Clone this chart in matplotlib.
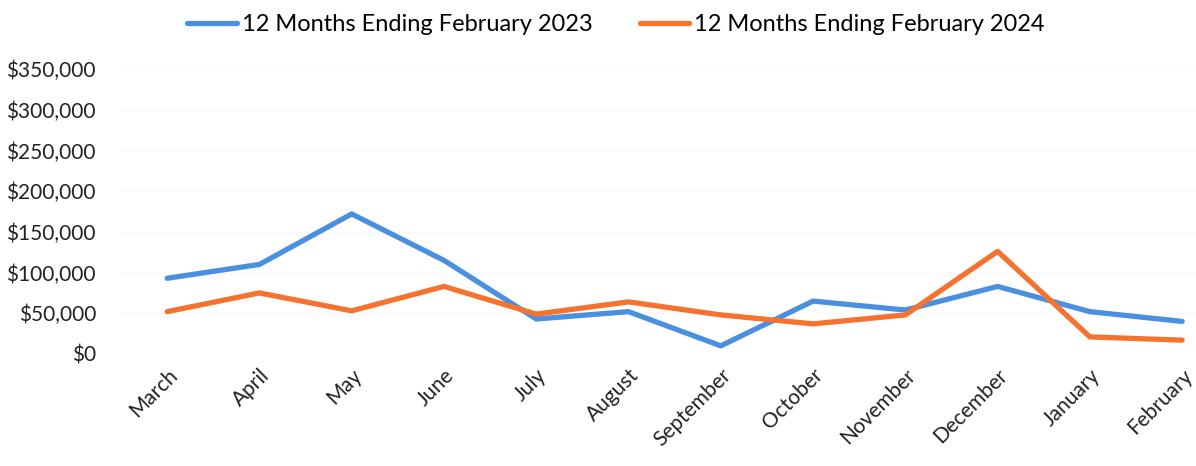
import matplotlib
matplotlib.use("Agg")
from matplotlib import pyplot as plt
from matplotlib.ticker import FuncFormatter

# month labels and the two series (dollars)
months = ["March", "April", "May", "June", "July", "August", "September",
          "October", "November", "December", "January", "February"]
sales_2023 = [93000, 110000, 172000, 115000, 43000, 52000, 10000,
              65000, 54000, 83000, 52000, 40000]
sales_2024 = [52000, 75000, 53000, 83000, 49000, 64000, 48000,
              37000, 48000, 126000, 21000, 17000]
label_2023 = "12 Months Ending February 2023"
label_2024 = "12 Months Ending February 2024"

plt.rcParams['font.family'] = ['Lato', 'DejaVu Sans']

fig = plt.figure(figsize=(11.96, 4.66), dpi=100)
ax = fig.add_axes([121/1196, (466-354)/466, 1 - 121/1196, 285/466])

x = range(len(months))
ax.plot(x, sales_2023, color="#4A8FE0", linewidth=3.8, solid_capstyle="round",
        solid_joinstyle="round", label=label_2023, clip_on=False)
ax.plot(x, sales_2024, color="#F5732F", linewidth=3.8, solid_capstyle="round",
        solid_joinstyle="round", label=label_2024, clip_on=False)

ax.set_xlim(-0.5, 11.15)
ax.set_ylim(0, 350000)
ax.set_yticks(range(0, 350001, 50000))
ax.yaxis.set_major_formatter(FuncFormatter(lambda v, p: f"${int(v):,}"))
ax.set_xticks(list(x))
ax.set_xticklabels(months, rotation=45, ha="right", rotation_mode="anchor")

ax.grid(axis="y", color="#f8f8f8", linewidth=1)
ax.set_axisbelow(True)
for s in ax.spines.values():
    s.set_visible(False)
ax.tick_params(length=0, labelsize=15, colors="#222222")
ax.tick_params(axis="y", pad=18)
ax.tick_params(axis="x", pad=8)

fig.legend(loc="upper center", bbox_to_anchor=(0.515, 1.015), ncol=2, frameon=False,
           fontsize=17, handlelength=2.1, handletextpad=0.2, columnspacing=2.0)

fig.savefig("out.png", dpi=100)
